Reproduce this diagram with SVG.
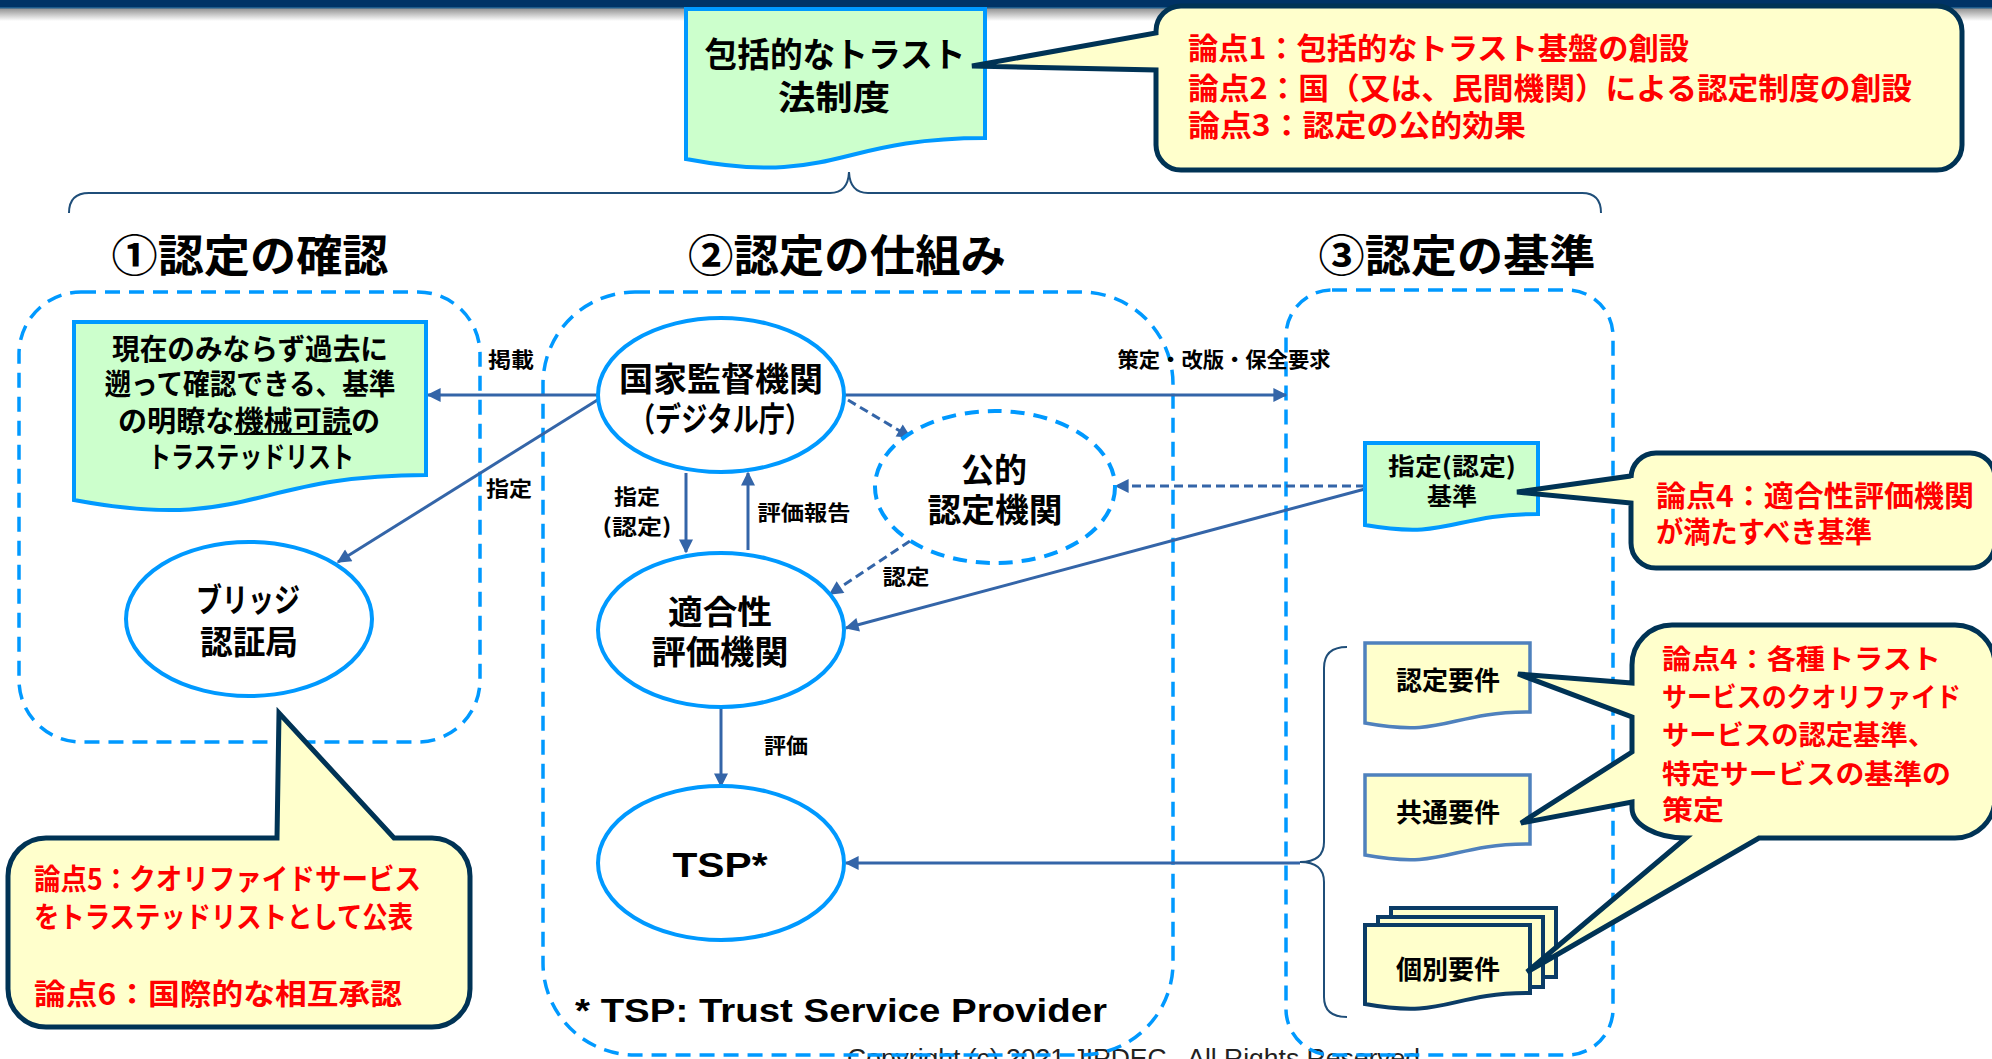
<svg xmlns="http://www.w3.org/2000/svg" width="1992" height="1059" viewBox="0 0 1992 1059">
<style>
.jp{font-family:"Noto Sans CJK JP","Noto Sans CJK SC",sans-serif;font-weight:700;dominant-baseline:central;fill:#000}
.c{text-anchor:middle}
.red{fill:#ff0000}
.box{fill:none;stroke:#0099ff;stroke-width:3.5;stroke-dasharray:15 9}
.ell{fill:#fff;stroke:#0099ff;stroke-width:4}
.ellD{fill:#fff;stroke:#0099ff;stroke-width:4;stroke-dasharray:14 9}
.gdoc{fill:#ccffcc;stroke:#0099ff;stroke-width:4}
.ydoc{fill:#ffffcc;stroke:#4f81bd;stroke-width:3.5}
.ydocD{fill:#ffffcc;stroke:#0b3c66;stroke-width:4}
.call{fill:#ffffcc;stroke:#003355;stroke-width:5;stroke-linejoin:miter}
.brace{fill:none;stroke:#1f4e79;stroke-width:2}
.arr{fill:none;stroke:#3465a8;stroke-width:3;marker-end:url(#ah)}
.arrD{fill:none;stroke:#3465a8;stroke-width:3;stroke-dasharray:9 5;marker-end:url(#ah)}
.lbl{font-size:21px}
</style>
<defs>
<linearGradient id="shadow" x1="0" y1="0" x2="0" y2="1">
<stop offset="0" stop-color="#8f8f8f"/>
<stop offset="1" stop-color="#ffffff"/>
</linearGradient>
<marker id="ah" viewBox="0 0 10 10" refX="9" refY="5" markerWidth="15" markerHeight="14" markerUnits="userSpaceOnUse" orient="auto">
<path d="M0,0 L10,5 L0,10 z" fill="#3465a8"/>
</marker>
</defs>
<rect x="0" y="0" width="1992" height="1059" fill="#ffffff"/>
<!-- top bar -->
<rect x="0" y="8" width="1992" height="13" fill="url(#shadow)"/>
<rect x="0" y="0" width="1992" height="7" fill="#003366"/>
<rect x="0" y="7" width="1992" height="1.5" fill="#1d5b8c"/>

<!-- copyright (partly hidden at the bottom) -->
<text x="847" y="1067" textLength="573" lengthAdjust="spacingAndGlyphs" style="font-family:'Liberation Sans',Arial,sans-serif;font-size:25px;fill:#222">Copyright (c) 2021 JIPDEC . All Rights Reserved</text>

<!-- section frames -->
<g id="frame1">
<rect class="box" x="19" y="292" width="461" height="450" rx="62" ry="62"/>
<text class="jp c" x="250" y="253" style="font-size:44px" textLength="277" lengthAdjust="spacingAndGlyphs">①認定の確認</text>
</g>
<g id="frame2">
<rect class="box" x="543" y="292" width="630" height="763" rx="92" ry="92"/>
<text class="jp c" x="847" y="253" style="font-size:44px" textLength="318" lengthAdjust="spacingAndGlyphs">②認定の仕組み</text>
</g>
<g id="frame3">
<rect class="box" x="1286" y="290" width="327" height="765" rx="46" ry="46"/>
<text class="jp c" x="1457" y="253" style="font-size:44px" textLength="277" lengthAdjust="spacingAndGlyphs">③認定の基準</text>
</g>

<!-- braces -->
<g id="braces">
<path class="brace" d="M69,213 Q69,193 89,193 L830,193 Q848,193 849,172 Q850,193 868,193 L1582,193 Q1601,193 1601,213"/>
<path class="brace" d="M1347,647 Q1324,647 1324,668 L1324,842 Q1324,862 1300,862 Q1324,862 1324,882 L1324,997 Q1324,1017 1347,1017"/>
</g>

<!-- connectors -->
<g id="connectors">
<line class="arr" x1="598" y1="395" x2="428" y2="395"/>
<line class="arr" x1="599" y1="399" x2="338" y2="562"/>
<line class="arr" x1="845" y1="395" x2="1286" y2="395"/>
<line class="arrD" x1="848" y1="400" x2="910" y2="437"/>
<line class="arr" x1="686" y1="473" x2="686" y2="552"/>
<line class="arr" x1="748" y1="550" x2="748" y2="473"/>
<line class="arrD" x1="910" y1="541" x2="830" y2="594"/>
<line class="arr" x1="1365" y1="489" x2="846" y2="628"/>
<line class="arrD" x1="1365" y1="486" x2="1116" y2="486"/>
<line class="arr" x1="721" y1="708" x2="721" y2="786"/>
<line class="arr" x1="1300" y1="863" x2="846" y2="863"/>
<text class="jp c lbl" x="511" y="358" textLength="46" lengthAdjust="spacingAndGlyphs">掲載</text>
<text class="jp c lbl" x="509" y="487" textLength="46" lengthAdjust="spacingAndGlyphs">指定</text>
<text class="jp c lbl" x="1224" y="358" textLength="213" lengthAdjust="spacingAndGlyphs">策定・改版・保全要求</text>
<text class="jp c lbl"><tspan x="637" y="495" textLength="46" lengthAdjust="spacingAndGlyphs">指定</tspan><tspan x="637" y="525" textLength="69" lengthAdjust="spacingAndGlyphs">(認定)</tspan></text>
<text class="jp c lbl" x="804" y="511" textLength="93" lengthAdjust="spacingAndGlyphs">評価報告</text>
<text class="jp c lbl" x="906" y="575" textLength="47" lengthAdjust="spacingAndGlyphs">認定</text>
<text class="jp c lbl" x="786" y="744" textLength="44" lengthAdjust="spacingAndGlyphs">評価</text>
</g>

<!-- top legal doc -->
<g id="law">
<path class="gdoc" d="M686,9 H985 V138 C835,138 835,187 686,159 Z"/>
<text class="jp c" style="font-size:34px"><tspan x="835" y="52" textLength="261" lengthAdjust="spacingAndGlyphs">包括的なトラスト</tspan><tspan x="834" y="95" textLength="112" lengthAdjust="spacingAndGlyphs">法制度</tspan></text>
</g>

<!-- trusted list doc -->
<g id="trustedlist">
<path class="gdoc" d="M74,322 H426 V475 C250,475 250,533 74,500 Z"/>
<text class="jp c" style="font-size:29px"><tspan x="250" y="347" textLength="276" lengthAdjust="spacingAndGlyphs">現在のみならず過去に</tspan><tspan x="250" y="382" textLength="291" lengthAdjust="spacingAndGlyphs">遡って確認できる、基準</tspan><tspan x="249" y="419" textLength="262" lengthAdjust="spacingAndGlyphs">の明瞭な機械可読の</tspan><tspan x="251" y="455" textLength="206" lengthAdjust="spacingAndGlyphs">トラステッドリスト</tspan></text>
<line x1="234" y1="434" x2="352" y2="434" stroke="#000" stroke-width="2"/>
</g>

<g id="bridge">
<ellipse class="ell" cx="249" cy="619" rx="123" ry="77"/>
<text class="jp c" style="font-size:33px"><tspan x="248" y="598" textLength="104" lengthAdjust="spacingAndGlyphs">ブリッジ</tspan><tspan x="249" y="640" textLength="98" lengthAdjust="spacingAndGlyphs">認証局</tspan></text>
</g>

<g id="supervisor">
<ellipse class="ell" cx="721" cy="395" rx="123" ry="77"/>
<text class="jp c" style="font-size:33px"><tspan x="721" y="377" textLength="204" lengthAdjust="spacingAndGlyphs">国家監督機関</tspan><tspan x="720" y="417" textLength="182" lengthAdjust="spacingAndGlyphs">（デジタル庁）</tspan></text>
</g>

<g id="public-accreditation">
<ellipse class="ellD" cx="995" cy="487" rx="120" ry="76"/>
<text class="jp c" style="font-size:33px"><tspan x="994" y="468" textLength="66" lengthAdjust="spacingAndGlyphs">公的</tspan><tspan x="995" y="508" textLength="135" lengthAdjust="spacingAndGlyphs">認定機関</tspan></text>
</g>

<g id="cab">
<ellipse class="ell" cx="721" cy="630" rx="123" ry="77"/>
<text class="jp c" style="font-size:33px"><tspan x="720" y="610" textLength="104" lengthAdjust="spacingAndGlyphs">適合性</tspan><tspan x="720" y="650" textLength="137" lengthAdjust="spacingAndGlyphs">評価機関</tspan></text>
</g>

<g id="tsp">
<ellipse class="ell" cx="721" cy="863" rx="123" ry="77"/>
<text x="720" y="877" text-anchor="middle" textLength="95" lengthAdjust="spacingAndGlyphs" style="font-family:'Liberation Sans',Arial,sans-serif;font-weight:700;font-size:35px;fill:#000">TSP*</text>
</g>

<g id="tsp-note">
<text x="575" y="1022" textLength="532" lengthAdjust="spacingAndGlyphs" style="font-family:'Liberation Sans',Arial,sans-serif;font-weight:700;font-size:34px;fill:#000">* TSP: Trust Service Provider</text>
</g>

<g id="criteria">
<path class="gdoc" d="M1365,443 H1538 V514 C1451.5,514 1451.5,540 1365,525 Z"/>
<text class="jp c" style="font-size:24px"><tspan x="1452" y="464" textLength="128" lengthAdjust="spacingAndGlyphs">指定(認定)</tspan><tspan x="1452" y="494" textLength="50" lengthAdjust="spacingAndGlyphs">基準</tspan></text>
</g>

<g id="req-accreditation">
<path class="ydoc" d="M1365,643 H1530 V712 C1447.5,712 1447.5,738 1365,723 Z"/>
<text class="jp c" x="1448" y="678" style="font-size:26px" textLength="104" lengthAdjust="spacingAndGlyphs">認定要件</text>
</g>

<g id="req-common">
<path class="ydoc" d="M1365,775 H1530 V844 C1447.5,844 1447.5,870 1365,855 Z"/>
<text class="jp c" x="1448" y="810" style="font-size:26px" textLength="104" lengthAdjust="spacingAndGlyphs">共通要件</text>
</g>

<g id="req-individual">
<rect class="ydocD" x="1391" y="908" width="165" height="69"/>
<rect class="ydocD" x="1378" y="917" width="165" height="70"/>
<path class="ydocD" d="M1365,925 H1530 V993 C1447.5,993 1447.5,1019 1365,1004 Z"/>
<text class="jp c" x="1448" y="967" style="font-size:26px" textLength="104" lengthAdjust="spacingAndGlyphs">個別要件</text>
</g>

<!-- callouts -->
<g id="callout-1-3">
<path class="call" d="M1181,6 H1937 A25,25 0 0 1 1962,31 V145 A25,25 0 0 1 1937,170 H1181 A25,25 0 0 1 1156,145 V70 L972,66 L1156,33 V31 A25,25 0 0 1 1181,6 Z"/>
<text class="jp red" style="font-size:30px"><tspan x="1188" y="46" textLength="501" lengthAdjust="spacingAndGlyphs">論点1：包括的なトラスト基盤の創設</tspan><tspan x="1188" y="86" textLength="724" lengthAdjust="spacingAndGlyphs">論点2：国（又は、民間機関）による認定制度の創設</tspan><tspan x="1188" y="123" textLength="338" lengthAdjust="spacingAndGlyphs">論点3：認定の公的効果</tspan></text>
</g>

<g id="callout-4a">
<path class="call" d="M1656,453 H1970 A25,25 0 0 1 1995,478 V543 A25,25 0 0 1 1970,568 H1656 A25,25 0 0 1 1631,543 V503 L1517,492 L1631,476 V478 A25,25 0 0 1 1656,453 Z"/>
<text class="jp red" style="font-size:29px"><tspan x="1656" y="494" textLength="318" lengthAdjust="spacingAndGlyphs">論点4：適合性評価機関</tspan><tspan x="1656" y="530" textLength="216" lengthAdjust="spacingAndGlyphs">が満たすべき基準</tspan></text>
</g>

<g id="callout-4b">
<path class="call" d="M1672,625 H1955 A40,40 0 0 1 1995,665 V798 A40,40 0 0 1 1955,838 H1759 L1527,972 L1686,838 A54,30 0 0 1 1632,808 V802 L1521,823 L1632,752 V717 L1518,674 L1632,683 V665 A40,40 0 0 1 1672,625 Z"/>
<text class="jp red" style="font-size:27px"><tspan x="1662" y="657" textLength="279" lengthAdjust="spacingAndGlyphs">論点4：各種トラスト</tspan><tspan x="1662" y="695" textLength="299" lengthAdjust="spacingAndGlyphs">サービスのクオリファイド</tspan><tspan x="1662" y="733" textLength="273" lengthAdjust="spacingAndGlyphs">サービスの認定基準、</tspan><tspan x="1662" y="772" textLength="289" lengthAdjust="spacingAndGlyphs">特定サービスの基準の</tspan><tspan x="1662" y="808" textLength="62" lengthAdjust="spacingAndGlyphs">策定</tspan></text>
</g>

<g id="callout-5-6">
<path class="call" d="M46,838 H277 L279,713 L394,838 H432 A38,38 0 0 1 470,876 V989 A38,38 0 0 1 432,1027 H46 A38,38 0 0 1 8,989 V876 A38,38 0 0 1 46,838 Z"/>
<text class="jp red" style="font-size:29px"><tspan x="34" y="877" textLength="387" lengthAdjust="spacingAndGlyphs">論点5：クオリファイドサービス</tspan><tspan x="34" y="915" textLength="379" lengthAdjust="spacingAndGlyphs">をトラステッドリストとして公表</tspan><tspan x="34" y="992" textLength="368" lengthAdjust="spacingAndGlyphs">論点6：国際的な相互承認</tspan></text>
</g>
</svg>
